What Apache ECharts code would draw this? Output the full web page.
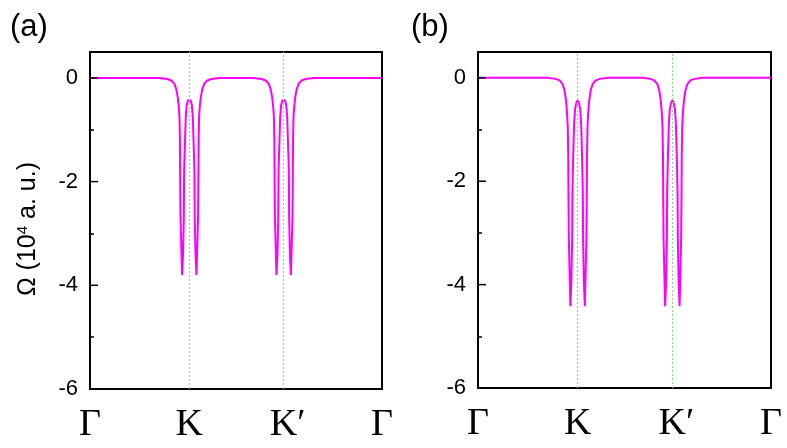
<!DOCTYPE html>
<html>
<head>
<meta charset="utf-8">
<script src="https://cdn.jsdelivr.net/npm/echarts@6/dist/echarts.min.js"></script>
<style>
  html, body { margin: 0; padding: 0; background: #fff; }
  #chart { width: 787px; height: 448px; }
</style>
</head>
<body>
<div id="chart"></div>
<script>
// High-symmetry path positions and their labels
const kTicks = [0, 1.02, 1.99, 3];
const kTickLabels = ['Γ', 'K', 'K′', 'Γ'];
const valleyLines = [1.02, 1.99];

// Omega axis ticks (units of 10^4 a.u.)
const omegaMajor = [-6, -4, -2, 0];
const omegaMinor = [-5, -3, -1];

// Sampled k along Γ-K-K'-Γ (shared by both panels)
const kPath = [
  0,
  0.712, 0.794, 0.835, 0.866, 0.887, 0.902, 0.912, 0.919, 0.924, 0.926, 0.930,
  0.940, 0.946, 0.956, 0.964, 0.967, 0.974, 0.984, 0.994, 1.007, 1.020,
  1.033, 1.046, 1.056, 1.066, 1.073, 1.076, 1.084, 1.094, 1.100, 1.110,
  1.114, 1.116, 1.121, 1.128, 1.138, 1.153, 1.174, 1.205, 1.246, 1.328,
  1.682, 1.764, 1.805, 1.836, 1.857, 1.872, 1.882, 1.889, 1.894, 1.896, 1.900,
  1.910, 1.916, 1.926, 1.934, 1.937, 1.944, 1.954, 1.964, 1.977, 1.990,
  2.003, 2.016, 2.026, 2.036, 2.043, 2.046, 2.054, 2.064, 2.070, 2.080,
  2.084, 2.086, 2.091, 2.098, 2.108, 2.123, 2.144, 2.175, 2.216, 2.298,
  3
];

// Berry curvature, panel (a)
const omegaA = [
  0,
  0, -0.02, -0.05, -0.11, -0.22, -0.38, -0.55, -0.75, -1.2, -1.8, -2.7,
  -3.4, -3.8, -3.4, -2.7, -1.8, -1.35, -0.75, -0.52, -0.43, -0.40,
  -0.43, -0.52, -0.75, -1.35, -1.8, -2.7, -3.4, -3.8, -3.4, -2.7,
  -1.8, -1.2, -0.75, -0.55, -0.38, -0.22, -0.11, -0.05, -0.02, 0,
  0, -0.02, -0.05, -0.11, -0.22, -0.38, -0.55, -0.75, -1.2, -1.8, -2.7,
  -3.4, -3.8, -3.4, -2.7, -1.8, -1.35, -0.75, -0.52, -0.43, -0.40,
  -0.43, -0.52, -0.75, -1.35, -1.8, -2.7, -3.4, -3.8, -3.4, -2.7,
  -1.8, -1.2, -0.75, -0.55, -0.38, -0.22, -0.11, -0.05, -0.02, 0,
  0
];

// Berry curvature, panel (b)
const omegaB = [
  0,
  0, -0.02, -0.05, -0.12, -0.25, -0.45, -0.68, -0.95, -1.5, -2.2, -3.1,
  -3.95, -4.42, -3.95, -3.1, -2.2, -1.55, -0.88, -0.6, -0.48, -0.44,
  -0.48, -0.6, -0.88, -1.55, -2.2, -3.1, -3.95, -4.42, -3.95, -3.1,
  -2.2, -1.5, -0.95, -0.68, -0.45, -0.25, -0.12, -0.05, -0.02, 0,
  0, -0.02, -0.05, -0.12, -0.25, -0.45, -0.68, -0.95, -1.5, -2.2, -3.1,
  -3.95, -4.42, -3.95, -3.1, -2.2, -1.55, -0.88, -0.6, -0.48, -0.44,
  -0.48, -0.6, -0.88, -1.55, -2.2, -3.1, -3.95, -4.42, -3.95, -3.1,
  -2.2, -1.5, -0.95, -0.68, -0.45, -0.25, -0.12, -0.05, -0.02, 0,
  0
];

const pairs = (xs, ys) => xs.map((x, i) => [x, ys[i]]);

const sans = 'Liberation Sans, Arial, sans-serif';
const serif = 'Liberation Serif, Times New Roman, serif';

// Plot rectangles of the two panels
const panelA = { left: 90, top: 52, right: 405, bottom: 59 };
const panelB = { left: 478, top: 52, right: 16, bottom: 60 };

function xAxisFor(gridIndex) {
  return {
    type: 'value', gridIndex, min: 0, max: 3,
    axisLine: { show: false },
    axisTick: { show: false },
    splitLine: { show: false },
    axisLabel: {
      customValues: kTicks,
      margin: 17,
      fontFamily: serif, fontSize: 38, color: '#000',
      formatter: (v) => {
        const i = kTicks.indexOf(v);
        const t = i >= 0 ? kTickLabels[i] : '';
        return t === 'K′' ? '{s|}K′' : t;
      },
      rich: { s: { width: 8 } }
    }
  };
}

// Hidden x axis for the overlay grids that only carry the short ticks
function blankXAxis(gridIndex) {
  return { type: 'value', gridIndex, min: 0, max: 3, show: false };
}

function majorYAxis(gridIndex) {
  return {
    type: 'value', gridIndex, min: -6, max: 0.5,
    axisLine: { show: false },
    splitLine: { show: false },
    axisTick: { show: false },
    axisLabel: { customValues: omegaMajor, margin: 12,
      fontFamily: sans, fontSize: 22, color: '#000' }
  };
}

function minorYAxis(gridIndex) {
  return {
    type: 'value', gridIndex, min: -6, max: 0.5,
    axisLine: { show: false },
    splitLine: { show: false },
    axisLabel: { show: false },
    axisTick: { show: true, inside: true, length: 4, customValues: omegaMinor,
      lineStyle: { color: '#000', width: 1.5 } }
  };
}

function guideSeries(xi, yi) {
  return {
    type: 'line', xAxisIndex: xi, yAxisIndex: yi, data: [], z: 1,
    markLine: {
      silent: true, symbol: 'none', label: { show: false },
      lineStyle: { color: '#7ee07e', type: [2, 2], width: 1.2 },
      data: valleyLines.map(v => ({ xAxis: v }))
    }
  };
}

function curveSeries(xi, yi, ys) {
  return {
    type: 'line', xAxisIndex: xi, yAxisIndex: yi, z: 3,
    showSymbol: false, smooth: false, clip: true,
    lineStyle: { color: '#ff00ff', width: 2 },
    data: pairs(kPath, ys)
  };
}

const frame = { show: true, borderColor: '#000', borderWidth: 2, backgroundColor: 'transparent' };

const textElements = [
  { type: 'text', id: 'tagA', left: 10, top: 12,
    style: { text: '(a)', font: '31px ' + sans, fill: '#000' } },
  { type: 'text', id: 'tagB', left: 411, top: 12,
    style: { text: '(b)', font: '31px ' + sans, fill: '#000' } },
  { type: 'text', id: 'yname', x: 28, y: 229, rotation: Math.PI / 2,
    style: {
      text: 'Ω (10{sup|4} a. u.)',
      fill: '#000', font: '25px ' + sans,
      align: 'center', verticalAlign: 'middle',
      rich: {
        sup: { fontSize: 15, fontFamily: sans, verticalAlign: 'top', lineHeight: 26 }
      }
    } }
];

const chart = echarts.init(document.getElementById('chart'), null, { renderer: 'canvas' });
chart.setOption({
  animation: false,
  backgroundColor: '#fff',
  grid: [
    { ...panelA, ...frame },
    { ...panelB, ...frame },
    { ...panelA, show: false },
    { ...panelB, show: false }
  ],
  xAxis: [xAxisFor(0), xAxisFor(1), blankXAxis(2), blankXAxis(3)],
  yAxis: [majorYAxis(0), majorYAxis(1), minorYAxis(2), minorYAxis(3)],
  series: [
    guideSeries(0, 0),
    curveSeries(0, 0, omegaA),
    guideSeries(1, 1),
    curveSeries(1, 1, omegaB)
  ],
  graphic: { elements: textElements }
});

// Long inward ticks on the left frame, placed through each panel's axis scales
const majorTickPx = 8;
const tickElements = [];
[0, 1].forEach((g) => {
  omegaMajor.filter(v => v > -6).forEach((v) => {
    const p = chart.convertToPixel({ gridIndex: g }, [0, v]);
    tickElements.push({
      type: 'line', id: 'tick' + g + '_' + v, z: 50,
      shape: { x1: p[0], y1: p[1], x2: p[0] + majorTickPx, y2: p[1] },
      style: { stroke: '#000', lineWidth: 1.5 }
    });
  });
});
chart.setOption({ graphic: { elements: textElements.concat(tickElements) } });
</script>
</body>
</html>
